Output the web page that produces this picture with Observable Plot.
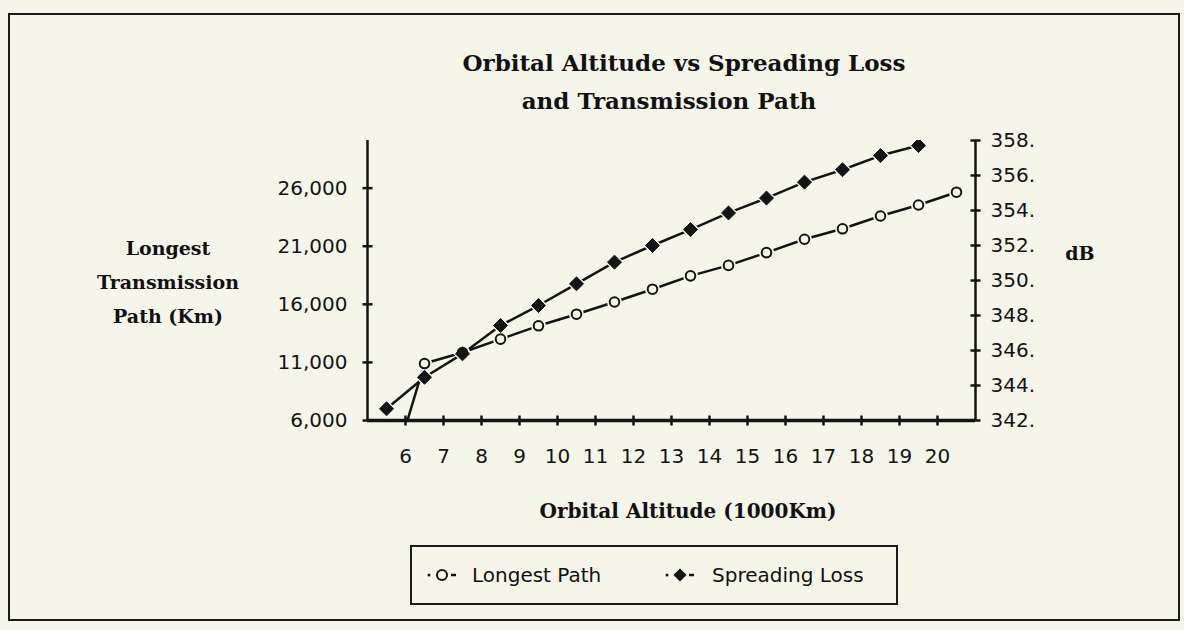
<!DOCTYPE html>
<html>
<head>
<meta charset="utf-8">
<script src="https://cdn.jsdelivr.net/npm/d3@7"></script>
<script src="https://cdn.jsdelivr.net/npm/@observablehq/plot@0.6"></script>
<style>
  html, body { margin: 0; padding: 0; background: #f5f5ea; }
  #wrap { position: relative; width: 1184px; height: 630px; overflow: hidden; background: #f5f5ea; }
  #wrap svg.plot { position: absolute; left: 0; top: 0; }
  .frame { position: absolute; left: 8px; top: 13px; width: 1168px; height: 604px; border: 2px solid #1a1a1a; }
  .serif { position: absolute; font-family: "DejaVu Serif", serif; font-weight: bold; color: #111; white-space: nowrap; text-align: center; transform: translate(-50%, -50%); }
  .legend { position: absolute; left: 410px; top: 545px; width: 488px; height: 60px; border: 2px solid #1a1a1a; box-sizing: border-box; }
  .legend span.lab { position: absolute; top: 50%; transform: translateY(-50%); font-family: "DejaVu Sans", sans-serif; font-size: 20px; color: #111; white-space: nowrap; }
  .legend svg { position: absolute; }
</style>
</head>
<body>
<div id="wrap">
  <div class="frame"></div>
  <div class="serif" id="title1" style="left:684px; top:63px; font-size:23px; line-height:26px;">Orbital Altitude vs Spreading Loss</div>
  <div class="serif" id="title2" style="left:669px; top:101px; font-size:23px; line-height:26px;">and Transmission Path</div>
  <div class="serif" id="ylab" style="left:168px; top:282px; font-size:19px; line-height:34px;">Longest<br>Transmission<br>Path (Km)</div>
  <div class="serif" id="y2lab" style="left:1080px; top:253px; font-size:19px; line-height:20px;">dB</div>
  <div class="serif" id="xlab" style="left:688px; top:511px; font-size:20px; line-height:24px;">Orbital Altitude (1000Km)</div>
  <div class="legend" id="legend"></div>
</div>
<script>
// ---- data ----
const altitudeLabels = [6, 7, 8, 9, 10, 11, 12, 13, 14, 15, 16, 17, 18, 19, 20];
// category centres of the plotted points
const pathX = [5.5, 6.5, 7.5, 8.5, 9.5, 10.5, 11.5, 12.5, 13.5, 14.5, 15.5, 16.5, 17.5, 18.5, 19.5, 20.5];
const longestPath = [0, 10900, 11850, 13000, 14150, 15150, 16200, 17300, 18450, 19350, 20450, 21600, 22500, 23600, 24550, 25650];
const lossX = [5.5, 6.5, 7.5, 8.5, 9.5, 10.5, 11.5, 12.5, 13.5, 14.5, 15.5, 16.5, 17.5, 18.5, 19.5];
const spreadingLoss = [342.67, 344.47, 345.81, 347.43, 348.57, 349.81, 351.05, 352.0, 352.91, 353.86, 354.71, 355.62, 356.33, 357.14, 357.71];
const leftTicks = [6000, 11000, 16000, 21000, 26000];
const rightTicks = [342, 344, 346, 348, 350, 352, 354, 356, 358];
const xDomain = [5, 21];
const leftDomain = [6000, 30100];
const rightDomain = [342, 358];

const ink = "#141414";
const paper = "#f5f5ea";

// map the dB axis onto the left scale
const toLeft = d3.scaleLinear().domain(rightDomain).range(leftDomain);
const fromLeft = toLeft.copy().invert;

const pathData = pathX.map((x, i) => ({x, v: longestPath[i]}));
const lossData = lossX.map((x, i) => ({x, v: toLeft(spreadingLoss[i])}));

// tick symbols crossing the axes
const vbar = {draw(ctx, size) { const r = Math.sqrt(size / Math.PI); ctx.moveTo(0, -r); ctx.lineTo(0, r); }};
const hbar = {draw(ctx, size) { const r = Math.sqrt(size / Math.PI); ctx.moveTo(-r, 0); ctx.lineTo(r, 0); }};

const chart = Plot.plot({
  width: 1184,
  height: 630,
  marginLeft: 367,
  marginRight: 209,
  marginTop: 140,
  marginBottom: 210,
  style: {background: "transparent", fontFamily: "DejaVu Sans, sans-serif", fontSize: "20px", color: ink},
  x: {domain: xDomain},
  y: {domain: leftDomain},
  marks: [
    // axes lines
    Plot.ruleY([leftDomain[0]], {stroke: ink, strokeWidth: 3.5}),
    Plot.ruleX([xDomain[0]], {stroke: ink, strokeWidth: 2.5}),
    Plot.ruleX([xDomain[1]], {stroke: ink, strokeWidth: 2.5}),
    // tick labels
    Plot.axisX({ticks: altitudeLabels, tickSize: 0, tickPadding: 28, label: null, tickFormat: d => String(d)}),
    Plot.axisY({ticks: leftTicks, tickSize: 0, tickPadding: 20, label: null, tickFormat: d3.format(",")}),
    Plot.axisY({ticks: rightTicks.map(toLeft), anchor: "right", tickSize: 0, tickPadding: 15, label: null,
      tickFormat: v => Math.round(fromLeft(v)) + "."}),
    // crossing tick marks
    Plot.dot(altitudeLabels, {x: d => d, frameAnchor: "bottom", symbol: vbar, r: 5, stroke: ink, strokeWidth: 2.5}),
    Plot.dot(leftTicks, {y: d => d, frameAnchor: "left", symbol: hbar, r: 5, stroke: ink, strokeWidth: 2.5}),
    Plot.dot(rightTicks.map(toLeft), {y: d => d, frameAnchor: "right", symbol: hbar, r: 5, stroke: ink, strokeWidth: 2.5}),
    // series lines
    Plot.line(pathData, {x: "x", y: "v", stroke: ink, strokeWidth: 2.5, clip: true}),
    Plot.line(lossData, {x: "x", y: "v", stroke: ink, strokeWidth: 2.5, clip: true}),
    // halos to open gaps round markers
    Plot.dot(pathData, {x: "x", y: "v", r: 7.5, fill: paper, clip: true}),
    Plot.dot(lossData, {x: "x", y: "v", symbol: "diamond2", r: 8.5, fill: paper, clip: true}),
    // markers
    Plot.dot(pathData, {x: "x", y: "v", r: 4.8, fill: paper, stroke: ink, strokeWidth: 2, clip: true}),
    Plot.dot(lossData, {x: "x", y: "v", symbol: "diamond2", r: 6.3, fill: ink, stroke: ink, strokeWidth: 1, clip: true})
  ]
});
chart.classList.add("plot");
document.getElementById("wrap").insertBefore(chart, document.getElementById("title1"));

// legend
const legendItems = [
  {name: "Longest Path", symbol: "circle", left: 14, text: 60},
  {name: "Spreading Loss", symbol: "diamond", left: 252, text: 300}
];
const lg = d3.select("#legend");
for (const it of legendItems) {
  const svg = lg.append("svg").attr("width", 34).attr("height", 20)
    .style("left", it.left + "px").style("top", "18px");
  svg.append("circle").attr("cx", 3).attr("cy", 10).attr("r", 1.5).attr("fill", ink);
  if (it.symbol === "circle") {
    svg.append("circle").attr("cx", 16).attr("cy", 10).attr("r", 5).attr("fill", paper).attr("stroke", ink).attr("stroke-width", 2);
  } else {
    svg.append("path").attr("d", d3.symbol(d3.symbolDiamond2, 110)()).attr("transform", "translate(16,10)").attr("fill", ink);
  }
  svg.append("line").attr("x1", 25).attr("x2", 30).attr("y1", 10).attr("y2", 10).attr("stroke", ink).attr("stroke-width", 2.5);
  lg.append("span").attr("class", "lab").style("left", it.text + "px").text(it.name);
}
</script>
</body>
</html>
